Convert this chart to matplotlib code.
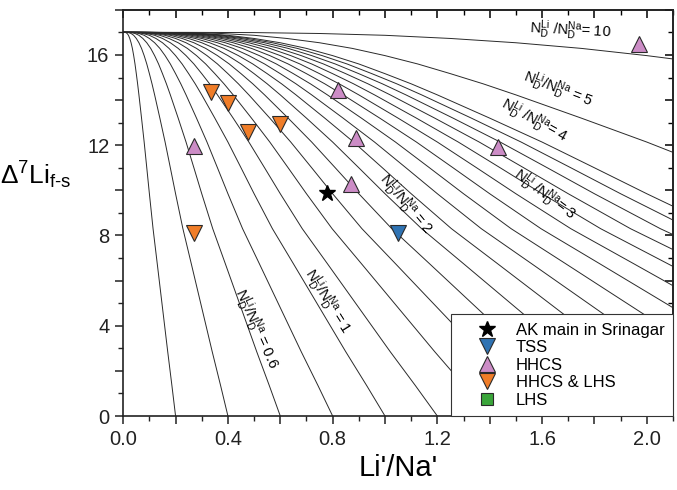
import numpy as np
import matplotlib
matplotlib.use('Agg')
import matplotlib.pyplot as plt
from matplotlib.ticker import MultipleLocator, FuncFormatter

plt.rcParams['font.family'] = ['Liberation Sans', 'DejaVu Sans']
plt.rcParams['mathtext.fontset'] = 'custom'
plt.rcParams['mathtext.rm'] = 'Liberation Sans'
plt.rcParams['mathtext.it'] = 'Liberation Sans:italic'
plt.rcParams['mathtext.default'] = 'regular'

# model curves: x-intercepts (Li'/Na' where delta reaches 0)
curve_x0 = [0.2, 0.4, 0.6, 0.8, 1.0, 1.2, 1.4, 1.6, 1.8, 2.0,
            2.2, 2.4, 2.6, 2.8, 3.0, 3.2, 3.4, 3.6, 3.8, 4.0, 5.0, 10.0]
# common curve shape (x / x0, delta7Li)
shape_r = [0.0, 0.025, 0.05, 0.075, 0.10, 0.125, 0.15, 0.175, 0.20, 0.225,
           0.25, 0.275, 0.30, 0.35, 0.40, 0.45, 0.50, 0.57, 0.65, 0.75,
           0.85, 0.93, 1.0]
shape_d = [17.0, 17.0, 16.99, 16.95, 16.87, 16.73, 16.54, 16.29, 15.97, 15.6,
           15.17, 14.72, 14.23, 13.2, 12.14, 11.0, 9.85, 8.3, 6.75, 4.8,
           2.85, 1.35, 0.0]

# samples
ak_x, ak_y = [0.78], [9.9]
tss_x, tss_y = [1.05], [8.1]
hhcs_x = [0.27, 0.82, 0.89, 0.87, 1.43, 1.97]
hhcs_y = [11.95, 14.45, 12.3, 10.3, 11.9, 16.5]
hl_x = [0.335, 0.40, 0.475, 0.60, 0.27]
hl_y = [14.35, 13.85, 12.6, 12.95, 8.1]
lhs_x, lhs_y = [], []

# curve labels: (x, y, text, rotation)
lab_x = [1.71, 1.66, 1.57, 1.61, 1.08, 0.78, 0.51]
lab_y = [17.1, 14.5, 13.1, 9.8, 9.4, 5.1, 3.85]
lab_t = [r'$N_D^{Li}$ /$N_D^{Na}$= 10', r'$N_D^{Li}$/$N_D^{Na}$ = 5',
         r'$N_D^{Li}$ /$N_D^{Na}$= 4', r'$N_D^{Li}$ /$N_D^{Na}$= 3',
         r'$N_D^{Li}$/$N_D^{Na}$ = 2', r'$N_D^{Li}$/$N_D^{Na}$ = 1',
         r'$N_D^{Li}$/$N_D^{Na}$ = 0.6']
lab_rot = [-3, -21, -29, -37, -50, -58, -66]

fig = plt.figure(figsize=(6.77, 4.90), dpi=100)
ax = fig.add_axes([0.182, 0.151, 0.812, 0.829])

r = np.array(shape_r)
d = np.array(shape_d)
for x0 in curve_x0:
    ax.plot(x0 * r, d, color='#2a2a2a', lw=0.7, zorder=1)

for x, y, t, rot in zip(lab_x, lab_y, lab_t, lab_rot):
    ax.text(x, y, t, rotation=rot, ha='center', va='center', fontsize=10.5,
            rotation_mode='anchor', zorder=2)

ax.plot(ak_x, ak_y, '*', color='black', ms=12, ls='none', zorder=3,
        label='AK main in Srinagar')
ax.plot(tss_x, tss_y, 'v', color='#2f73b3', mec='#2a2a2a', mew=0.8, ms=11,
        ls='none', zorder=3, label='TSS')
ax.plot(hhcs_x, hhcs_y, '^', color='#cc8cc6', mec='#2a2a2a', mew=0.8, ms=11,
        ls='none', zorder=3, label='HHCS')
ax.plot(hl_x, hl_y, 'v', color='#f07d28', mec='#2a2a2a', mew=0.8, ms=11,
        ls='none', zorder=3, label='HHCS & LHS')
ax.plot(lhs_x, lhs_y, 's', color='#3aa53a', mec='#2a2a2a', mew=0.8, ms=9,
        ls='none', zorder=3, label='LHS')

ax.set_xlim(0, 2.1)
ax.set_ylim(0, 18)

ax.xaxis.set_major_locator(MultipleLocator(0.2))
ax.xaxis.set_minor_locator(MultipleLocator(0.1))
ax.xaxis.set_major_formatter(FuncFormatter(
    lambda v, p: f'{v:.1f}' if abs(v / 0.4 - round(v / 0.4)) < 1e-6 else ''))
ax.yaxis.set_major_locator(MultipleLocator(2))
ax.yaxis.set_minor_locator(MultipleLocator(1))
ax.yaxis.set_major_formatter(FuncFormatter(
    lambda v, p: f'{v:.0f}' if abs(v / 4 - round(v / 4)) < 1e-6 else ''))
ax.tick_params(which='major', direction='out', length=6, width=1.1,
               labelsize=14.5, colors='#222222', pad=4)
ax.tick_params(which='minor', direction='out', length=3.5, width=1.0,
               colors='#222222')

# mirrored ticks on top / right, pointing inwards
top = ax.secondary_xaxis('top')
top.xaxis.set_major_locator(MultipleLocator(0.2))
top.xaxis.set_minor_locator(MultipleLocator(0.1))
top.tick_params(which='major', direction='in', length=6, width=1.1, labeltop=False)
top.tick_params(which='minor', direction='in', length=3.5, width=1.0)
right = ax.secondary_yaxis('right')
right.yaxis.set_major_locator(MultipleLocator(2))
right.yaxis.set_minor_locator(MultipleLocator(1))
right.tick_params(which='major', direction='in', length=6, width=1.1, labelright=False)
right.tick_params(which='minor', direction='in', length=3.5, width=1.0)

for sp in list(ax.spines.values()) + [top.spines['top'], right.spines['right']]:
    sp.set_linewidth(1.2)
    sp.set_color('#222222')

ax.set_xlabel("Li'/Na'", fontsize=21, labelpad=4)
ax.set_ylabel(r'$\Delta^7$Li$_{f\text{-}s}$', fontsize=19, rotation=0)
ax.yaxis.set_label_coords(-0.16, 0.555)

leg = ax.legend(loc='lower right', fontsize=12, frameon=True, fancybox=False,
                framealpha=1, edgecolor='#333333', borderaxespad=0,
                handlelength=3.3, handletextpad=0.1, labelspacing=0.15,
                borderpad=0.5)
leg.get_frame().set_linewidth(0.8)
leg.set_zorder(5)

fig.savefig('out.png', dpi=100)
